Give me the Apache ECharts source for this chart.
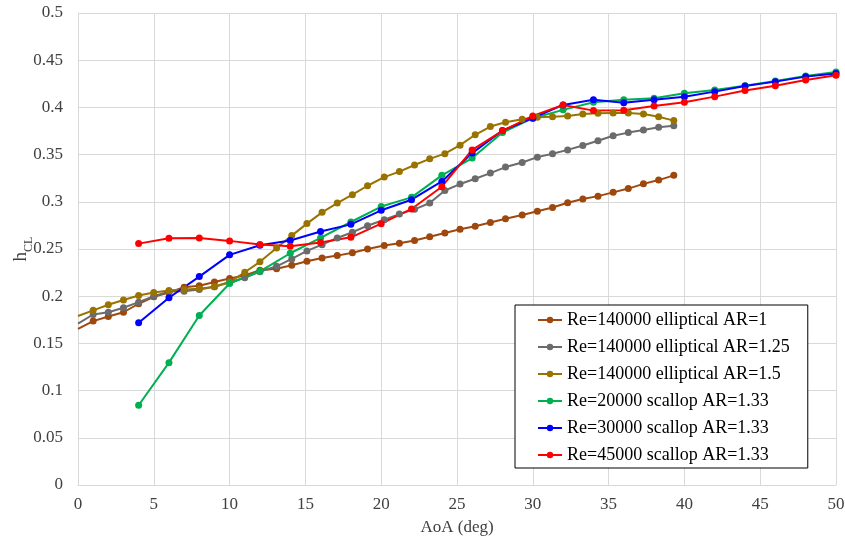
<!DOCTYPE html>
<html><head><meta charset="utf-8">
<script src="https://cdn.jsdelivr.net/npm/echarts@6/dist/echarts.min.js"></script>
<style>html,body{margin:0;padding:0;background:#fff}#c{width:845px;height:544px}</style>
</head><body><div id="c"></div>
<script>
// ---- data ----
var seriesNames = [
  'Re=140000 elliptical AR=1',
  'Re=140000 elliptical AR=1.25',
  'Re=140000 elliptical AR=1.5',
  'Re=20000 scallop AR=1.33',
  'Re=30000 scallop AR=1.33',
  'Re=45000 scallop AR=1.33'
];
var seriesColors = ['#9E480E', '#6B6B6B', '#997300', '#00B050', '#0000FF', '#FF0000'];
var xTicks = [0, 5, 10, 15, 20, 25, 30, 35, 40, 45, 50];
var yTicks = [0, 0.05, 0.1, 0.15, 0.2, 0.25, 0.3, 0.35, 0.4, 0.45, 0.5];

var aoaElliptical = [1,2,3,4,5,6,7,8,9,10,11,12,13.1,14.1,15.1,16.1,17.1,18.1,19.1,20.2,21.2,22.2,23.2,24.2,25.2,26.2,27.2,28.2,29.3,30.3,31.3,32.3,33.3,34.3,35.3,36.3,37.3,38.3,39.3];
// values where each elliptical curve meets the left edge (AoA = 0)
var edgeStart = [0.1655, 0.171, 0.179];
var hAR1 = [0.1736,0.1785,0.183,0.192,0.1994,0.204,0.2095,0.211,0.215,0.2187,0.222,0.2275,0.229,0.2328,0.237,0.2405,0.243,0.246,0.250,0.2536,0.256,0.259,0.263,0.267,0.271,0.274,0.278,0.282,0.286,0.290,0.294,0.299,0.303,0.306,0.310,0.314,0.319,0.323,0.328];
var hAR125 = [0.1806,0.183,0.1877,0.1937,0.200,0.205,0.2053,0.207,0.21,0.2148,0.2195,0.226,0.2317,0.2395,0.248,0.2546,0.2617,0.2677,0.2747,0.281,0.287,0.292,0.2987,0.312,0.3188,0.3244,0.3304,0.3368,0.3417,0.3473,0.351,0.355,0.3597,0.3646,0.370,0.3733,0.376,0.379,0.3805];
var hAR15 = [0.185,0.191,0.196,0.2007,0.204,0.206,0.207,0.208,0.21,0.215,0.2254,0.2364,0.251,0.2642,0.2769,0.2888,0.2987,0.3075,0.317,0.3262,0.332,0.339,0.3455,0.351,0.36,0.371,0.3797,0.3843,0.3875,0.3896,0.390,0.391,0.393,0.3938,0.394,0.394,0.393,0.390,0.386];

var aoaScallop = [4,6,8,10,12,14,16,18,20,22,24,26,28,30,32,34,36,38,40,42,44,46,48,50];
var hRe20k = [0.0845,0.1296,0.1796,0.2134,0.2264,0.2455,0.2617,0.2786,0.295,0.3047,0.328,0.3463,0.3734,0.3886,0.3974,0.4055,0.408,0.4097,0.415,0.4185,0.423,0.428,0.4333,0.4375];
var hRe30k = [0.1719,0.1983,0.2208,0.2438,0.254,0.259,0.2685,0.2761,0.291,0.3022,0.3216,0.3516,0.3755,0.3886,0.4026,0.408,0.405,0.408,0.4114,0.4167,0.4227,0.4273,0.4326,0.436];
var hRe45k = [0.2557,0.2613,0.2617,0.2586,0.2547,0.2529,0.2568,0.2624,0.2768,0.2924,0.316,0.355,0.3752,0.391,0.4026,0.3966,0.397,0.4016,0.4055,0.4114,0.4178,0.423,0.429,0.434];

// ---- build ----
function pairs(xs, ys, start) {
  var out = [];
  if (start !== undefined) out.push({ value: [0, start], symbol: 'none' });
  for (var i = 0; i < xs.length; i++) out.push([xs[i], ys[i]]);
  return out;
}
var dataSets = [
  pairs(aoaElliptical, hAR1, edgeStart[0]),
  pairs(aoaElliptical, hAR125, edgeStart[1]),
  pairs(aoaElliptical, hAR15, edgeStart[2]),
  pairs(aoaScallop, hRe20k),
  pairs(aoaScallop, hRe30k),
  pairs(aoaScallop, hRe45k)
];
var FONT = '"Liberation Serif", "Times New Roman", serif';
var series = dataSets.map(function (d, i) {
  return {
    name: seriesNames[i], type: 'line', data: d,
    symbol: 'circle', symbolSize: 7,
    lineStyle: { width: 2, color: seriesColors[i] },
    itemStyle: { color: seriesColors[i] },
    emphasis: { disabled: true }, animation: false
  };
});

var chart = echarts.init(document.getElementById('c'), null, { renderer: 'canvas' });
chart.setOption({
  backgroundColor: '#fff',
  animation: false,
  color: seriesColors,
  grid: { left: 78, right: 9, top: 13, bottom: 59, containLabel: false, outerBoundsMode: 'none' },
  xAxis: {
    type: 'value', min: xTicks[0], max: xTicks[xTicks.length - 1], interval: 5,
    name: 'AoA (deg)', nameLocation: 'middle', nameGap: 34, nameMoveOverlap: false,
    nameTextStyle: { fontFamily: FONT, fontSize: 17, color: '#404040' },
    axisLine: { show: true, lineStyle: { color: '#d9d9d9', width: 1 } },
    axisTick: { show: false },
    axisLabel: { fontFamily: FONT, fontSize: 17, color: '#404040', margin: 11 },
    splitLine: { show: true, lineStyle: { color: '#d9d9d9', width: 1 } }
  },
  yAxis: {
    type: 'value', min: yTicks[0], max: yTicks[yTicks.length - 1], interval: 0.05,
    name: '{h|h}{s|CL}', nameLocation: 'middle', nameGap: 47, nameRotate: 90, nameMoveOverlap: false,
    nameTextStyle: {
      fontFamily: FONT, color: '#404040',
      rich: {
        h: { fontFamily: FONT, fontSize: 19, color: '#404040', lineHeight: 22, verticalAlign: 'bottom' },
        s: { fontFamily: FONT, fontSize: 12, color: '#404040', lineHeight: 22, verticalAlign: 'bottom', padding: [0, 0, -4, 0] }
      }
    },
    axisLine: { show: true, lineStyle: { color: '#d9d9d9', width: 1 } },
    axisTick: { show: false },
    axisLabel: { fontFamily: FONT, fontSize: 17, color: '#404040', margin: 15 },
    splitLine: { show: true, lineStyle: { color: '#d9d9d9', width: 1 } }
  },
  legend: {
    data: seriesNames, orient: 'vertical', left: 515, top: 305,
    backgroundColor: '#fff', borderColor: '#000', borderWidth: 1,
    padding: [5, 18, 3, 22], itemGap: 7, itemWidth: 24, itemHeight: 8,
    textStyle: { fontFamily: FONT, fontSize: 18, color: '#000', lineHeight: 20 },
    selectedMode: false
  },
  series: series
});
</script></body></html>
